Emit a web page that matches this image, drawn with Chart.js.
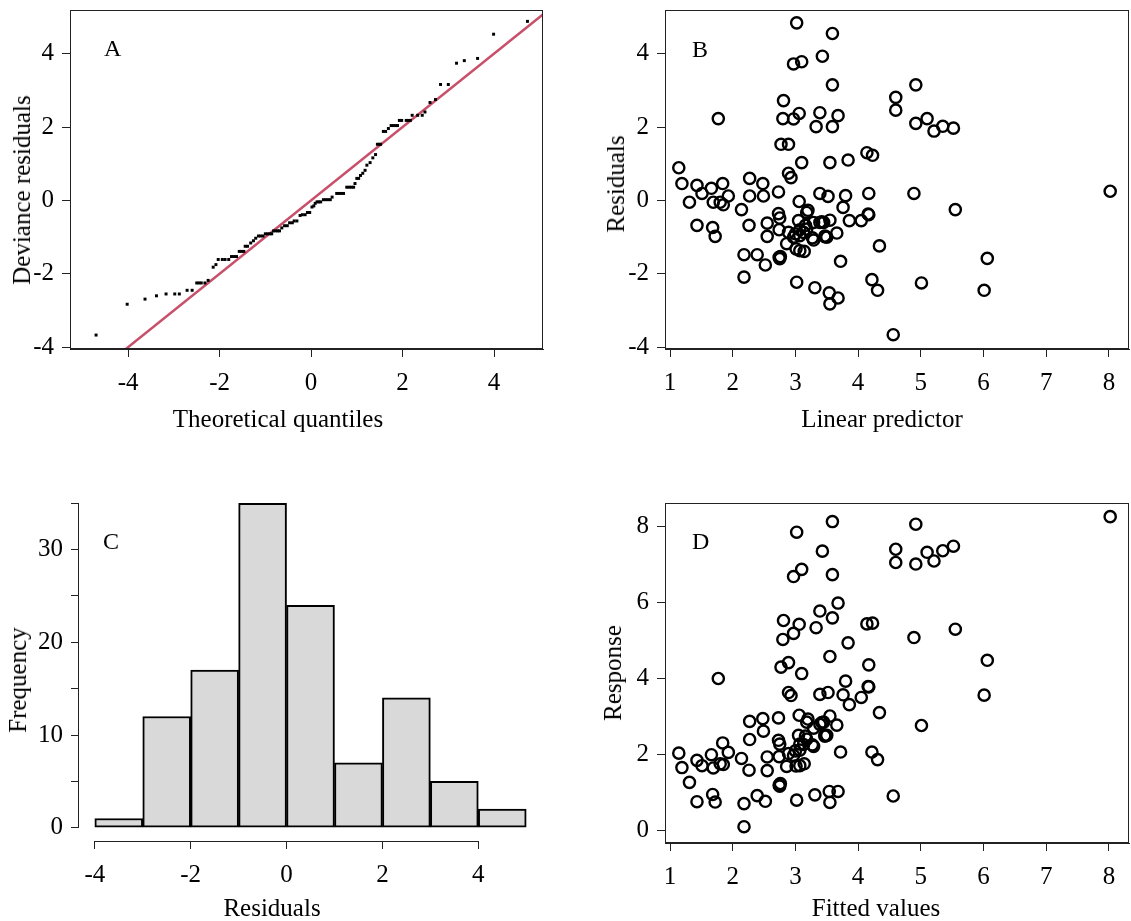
<!DOCTYPE html>
<html>
<head>
<meta charset="utf-8">
<script src="https://cdn.jsdelivr.net/npm/chart.js@4.4.0/dist/chart.umd.min.js"></script>
<style>
  body { margin: 0; width: 1131px; height: 921px; overflow: hidden; background: #fff; position: relative; }
  canvas { position: absolute; }
  .tag, .ttl { position: absolute; font-family: 'Liberation Serif', 'Times New Roman', serif; color: #000; white-space: nowrap; }
  .tag { font-size: 24px; line-height: 24px; }
  .ttl { font-size: 25px; line-height: 30px; transform: translate(-50%, -50%); }
  .ttl.v { transform: translate(-50%, -50%) rotate(-90deg); }
</style>
</head>
<body>
<canvas id="chartA" width="565" height="460" style="left:0;top:0"></canvas>
<canvas id="chartB" width="536" height="460" style="left:595px;top:0"></canvas>
<canvas id="chartC" width="565" height="470" style="left:0;top:460px"></canvas>
<canvas id="chartD" width="536" height="470" style="left:595px;top:460px"></canvas>
<div class="tag" style="left:104px;top:36px">A</div>
<div class="tag" style="left:692px;top:37px">B</div>
<div class="tag" style="left:103px;top:529px">C</div>
<div class="tag" style="left:692px;top:529px">D</div>
<div class="ttl" style="left:278px;top:419px">Theoretical quantiles</div>
<div class="ttl" style="left:882px;top:419px">Linear predictor</div>
<div class="ttl" style="left:272px;top:908px">Residuals</div>
<div class="ttl" style="left:876px;top:908px">Fitted values</div>
<div class="ttl v" style="left:22px;top:190px">Deviance residuals</div>
<div class="ttl v" style="left:616px;top:184px">Residuals</div>
<div class="ttl v" style="left:18px;top:680px">Frequency</div>
<div class="ttl v" style="left:613px;top:673px">Response</div>
<script>
// A: normal QQ plot of deviance residuals
const qqTheoretical = [-4.70, -4.02, -3.63, -3.38, -3.17, -2.98, -2.88, -2.71, -2.60, -2.50,
    -2.45, -2.40, -2.32, -2.25, -2.14, -2.08, -2.03, -1.94, -1.88, -1.80,
    -1.74, -1.69, -1.63, -1.57, -1.52, -1.47, -1.44, -1.39, -1.32, -1.26,
    -1.21, -1.15, -1.10, -1.05, -1.00, -0.95, -0.90, -0.86, -0.82, -0.77,
    -0.73, -0.69, -0.64, -0.58, -0.52, -0.47, -0.41, -0.37, -0.31, -0.24,
    -0.19, -0.13, -0.08, -0.03, 0.02, 0.06, 0.09, 0.13, 0.17, 0.21,
    0.27, 0.32, 0.37, 0.42, 0.46, 0.56, 0.61, 0.66, 0.71, 0.78,
    0.83, 0.88, 0.93, 0.96, 1.00, 1.04, 1.08, 1.13, 1.18, 1.22,
    1.29, 1.35, 1.41, 1.45, 1.49, 1.52, 1.58, 1.63, 1.69, 1.75,
    1.80, 1.85, 1.89, 1.93, 1.98, 2.08, 2.13, 2.17, 2.21, 2.33,
    2.43, 2.49, 2.60, 2.72, 2.83, 3.00, 3.18, 3.35, 3.64, 3.99, 4.73];
const qqDeviance = [-3.67, -2.83, -2.69, -2.60, -2.55, -2.55, -2.55, -2.45, -2.45, -2.25,
    -2.25, -2.25, -2.25, -2.18, -1.82, -1.75, -1.61, -1.61, -1.61, -1.61,
    -1.53, -1.53, -1.53, -1.39, -1.39, -1.39, -1.25, -1.25, -1.16, -1.10,
    -1.03, -0.97, -0.97, -0.97, -0.91, -0.91, -0.91, -0.91, -0.83, -0.83,
    -0.83, -0.83, -0.75, -0.69, -0.69, -0.61, -0.61, -0.56, -0.56, -0.41,
    -0.39, -0.39, -0.33, -0.33, -0.18, -0.15, -0.08, -0.04, -0.04, -0.04,
    0.02, 0.02, 0.02, 0.02, 0.09, 0.19, 0.19, 0.19, 0.19, 0.36,
    0.36, 0.36, 0.36, 0.46, 0.60, 0.60, 0.68, 0.74, 0.82, 0.96,
    1.03, 1.16, 1.25, 1.53, 1.53, 1.53, 1.88, 1.88, 1.96, 2.04,
    2.04, 2.04, 2.04, 2.18, 2.18, 2.18, 2.18, 2.18, 2.32, 2.32,
    2.32, 2.41, 2.67, 2.75, 3.16, 3.16, 3.74, 3.81, 3.87, 4.53, 4.88];
const qqLineX = [-5.5, 5.5];
const qqLineY = [-5.5, 5.5];

// B and D: one value per observation
const linearPredictor = [3.02, 3.59, 3.43, 2.97, 3.10, 3.59, 4.92, 4.60, 4.60, 2.81,
    1.77, 2.80, 2.97, 3.06, 3.39, 3.33, 3.59, 3.68, 4.92, 5.10,
    5.21, 5.35, 5.52, 2.77, 2.89, 3.10, 3.55, 3.84, 4.14, 4.23,
    2.89, 2.93, 1.14, 1.19, 1.43, 1.66, 1.84, 1.51, 1.93, 1.31,
    1.69, 1.80, 1.85, 2.27, 2.48, 2.27, 2.49, 2.14, 2.73, 4.89,
    8.02, 5.55, 4.17, 3.39, 3.52, 3.80, 3.76, 4.17, 4.05, 3.86,
    3.55, 3.39, 3.29, 3.66, 3.47, 3.29, 3.18, 3.06, 4.34, 3.72,
    6.06, 4.22, 4.31, 5.01, 6.01, 3.31, 3.54, 3.55, 3.68, 3.02,
    4.56, 1.43, 1.68, 1.72, 2.26, 2.55, 2.73, 2.75, 2.55, 2.74,
    2.89, 2.97, 2.86, 3.05, 3.16, 3.13, 3.01, 3.14, 3.27, 3.47,
    3.07, 3.18, 3.00, 3.07, 3.07, 2.18, 2.39, 2.52, 2.74, 2.75,
    2.18, 3.50, 3.42, 3.45, 2.76, 3.20, 4.16];
const residuals = [4.84, 4.55, 3.93, 3.72, 3.78, 3.15, 3.15, 2.81, 2.46, 2.72,
    2.23, 2.23, 2.22, 2.37, 2.39, 2.01, 2.01, 2.31, 2.10, 2.23,
    1.89, 2.02, 1.97, 1.53, 1.53, 1.03, 1.03, 1.10, 1.30, 1.23,
    0.74, 0.62, 0.89, 0.46, 0.41, 0.33, 0.46, 0.19, 0.12, -0.05,
    -0.05, -0.05, -0.12, 0.60, 0.46, 0.12, 0.12, -0.25, 0.23, 0.19,
    0.25, -0.25, 0.19, 0.19, 0.11, 0.13, -0.19, -0.39, -0.55, -0.55,
    -0.54, -0.60, -0.60, -0.89, -0.97, -1.08, -0.33, -0.03, -1.24, -1.66,
    -1.58, -2.16, -2.45, -2.25, -2.45, -2.38, -2.52, -2.82, -2.66, -2.23,
    -3.66, -0.68, -0.74, -0.98, -0.68, -0.62, -0.36, -0.48, -0.98, -0.80,
    -0.87, -1.00, -1.18, -0.55, -0.68, -0.87, -1.32, -1.39, -1.02, -0.99,
    -0.80, -0.78, -0.91, -0.96, -1.37, -1.48, -1.48, -1.76, -1.55, -1.59,
    -2.09, -1.00, -0.58, -0.60, -1.53, -0.27, -0.37];
const response = [7.86, 8.14, 7.36, 6.69, 6.88, 6.74, 8.07, 7.41, 7.06, 5.53,
    4.00, 5.03, 5.19, 5.43, 5.78, 5.34, 5.60, 5.99, 7.02, 7.33,
    7.10, 7.37, 7.49, 4.30, 4.42, 4.13, 4.58, 4.94, 5.44, 5.46,
    3.63, 3.55, 2.03, 1.65, 1.84, 1.99, 2.30, 1.70, 2.05, 1.26,
    1.64, 1.75, 1.73, 2.87, 2.94, 2.39, 2.61, 1.89, 2.96, 5.08,
    8.27, 5.30, 4.36, 3.58, 3.63, 3.93, 3.57, 3.78, 3.50, 3.31,
    3.01, 2.79, 2.69, 2.77, 2.50, 2.21, 2.85, 3.03, 3.10, 2.06,
    4.48, 2.06, 1.86, 2.76, 3.56, 0.93, 1.02, 0.73, 1.02, 0.79,
    0.90, 0.75, 0.94, 0.74, 1.58, 1.93, 2.37, 2.27, 1.57, 1.94,
    2.02, 1.97, 1.68, 2.50, 2.48, 2.26, 1.69, 1.75, 2.25, 2.48,
    2.27, 2.40, 2.09, 2.11, 1.70, 0.70, 0.91, 0.76, 1.19, 1.16,
    0.09, 2.50, 2.84, 2.85, 1.23, 2.93, 3.79];

// C: histogram of residuals
const histMidpoints = [-3.5, -2.5, -1.5, -0.5, 0.5, 1.5, 2.5, 3.5, 4.5];
const histCounts = [1, 12, 17, 35, 24, 7, 14, 5, 2];

// tick values
const ticksQQ = [-4, -2, 0, 2, 4];
const ticksPredictor = [1, 2, 3, 4, 5, 6, 7, 8];
const ticksResid = [-4, -2, 0, 2, 4];
const ticksHistX = [-4, -2, 0, 2, 4];
const ticksFreq = [0, 5, 10, 15, 20, 25, 30, 35];
const ticksResponse = [0, 2, 4, 6, 8];

Chart.defaults.font.family = "'Liberation Serif', 'Times New Roman', serif";
Chart.defaults.font.size = 25;
Chart.defaults.color = '#000';

const ink = '#222';

// closed box round the plot region
const frameBox = {
    id: 'frameBox',
    afterDatasetsDraw(chart) {
        const { ctx, chartArea: a } = chart;
        ctx.save();
        ctx.strokeStyle = ink;
        ctx.lineWidth = 1;
        ctx.strokeRect(a.left + 0.5, a.top + 0.5, a.right - a.left - 1, a.bottom - a.top - 1);
        ctx.restore();
    }
};

// axis lines that only run from first to last tick
const tickSpanAxes = {
    id: 'tickSpanAxes',
    afterDraw(chart) {
        const { ctx } = chart;
        const x = chart.scales.x, y = chart.scales.y;
        const xt = x.ticks, yt = y.ticks;
        ctx.save();
        ctx.strokeStyle = ink;
        ctx.lineWidth = 1;
        ctx.beginPath();
        ctx.moveTo(x.getPixelForValue(xt[0].value), x.top + 0.5);
        ctx.lineTo(x.getPixelForValue(xt[xt.length - 1].value), x.top + 0.5);
        ctx.moveTo(y.right - 0.5, y.getPixelForValue(yt[0].value));
        ctx.lineTo(y.right - 0.5, y.getPixelForValue(yt[yt.length - 1].value));
        ctx.stroke();
        ctx.restore();
    }
};

function rScale(pos, min, max, tickVals, boxSize, showBorder, labelFn) {
    const horizontal = pos === 'bottom';
    return {
        type: 'linear',
        position: pos,
        min: min,
        max: max,
        offset: false,
        afterBuildTicks: s => { s.ticks = tickVals.map(v => ({ value: v })); },
        afterFit: s => {
            // fixed box sizes, no extra room for edge labels
            if (horizontal) {
                s.height = boxSize;
                s.paddingLeft = 0;
                s.paddingRight = 0;
            } else {
                s.width = boxSize;
                s.paddingTop = 0;
                s.paddingBottom = 0;
            }
        },
        border: { display: showBorder, color: ink, width: 1 },
        grid: { offset: false, drawOnChartArea: false, drawTicks: true, tickLength: 8, color: ink, lineWidth: 1 },
        ticks: {
            autoSkip: false,
            maxRotation: 0,
            padding: horizontal ? 11 : 8,
            color: '#000',
            callback: labelFn || (v => String(v))
        },
        title: { display: false }
    };
}

function panelOptions(pad, xScale, yScale) {
    return {
        responsive: false,
        animation: false,
        events: [],
        layout: { autoPadding: false, padding: { left: 0, top: pad.top, right: pad.right, bottom: 0 } },
        plugins: { legend: { display: false }, tooltip: { enabled: false } },
        scales: { x: xScale, y: yScale }
    };
}

function circles(xs, ys) {
    return {
        data: xs.map((x, i) => ({ x: x, y: ys[i] })),
        pointStyle: 'circle',
        pointRadius: 5.6,
        borderWidth: 2.4,
        borderColor: '#000',
        backgroundColor: 'rgba(0,0,0,0)'
    };
}

new Chart(document.getElementById('chartA'), {
    type: 'scatter',
    data: {
        datasets: [
            {
                data: qqTheoretical.map((x, i) => ({ x: x, y: qqDeviance[i] })),
                pointStyle: 'rect',
                pointRadius: 2.1,
                borderWidth: 0,
                backgroundColor: '#000'
            },
            {
                type: 'line',
                data: qqLineX.map((x, i) => ({ x: x, y: qqLineY[i] })),
                showLine: true,
                borderColor: '#C8506A',
                borderWidth: 2.5,
                pointRadius: 0,
                fill: false
            }
        ]
    },
    options: panelOptions({ top: 10, right: 22 },
        rScale('bottom', -5.27, 5.07, ticksQQ, 111, true),
        rScale('left', -4.05, 5.19, ticksQQ, 70, true)),
    plugins: [frameBox]
});

new Chart(document.getElementById('chartB'), {
    type: 'scatter',
    data: { datasets: [circles(linearPredictor, residuals)] },
    options: panelOptions({ top: 10, right: 2 },
        rScale('bottom', 0.92, 8.32, ticksPredictor, 111, true),
        rScale('left', -4.05, 5.19, ticksResid, 70, true)),
    plugins: [frameBox]
});

new Chart(document.getElementById('chartC'), {
    type: 'bar',
    data: {
        datasets: [{
            data: histMidpoints.map((x, i) => ({ x: x, y: histCounts[i] })),
            backgroundColor: '#D9D9D9',
            borderColor: '#000',
            borderWidth: 2,
            borderSkipped: false,
            barPercentage: 1,
            categoryPercentage: 1
        }]
    },
    options: panelOptions({ top: 30, right: 22 },
        rScale('bottom', -4.33, 5.35, ticksHistX, 89, false),
        rScale('left', -1.43, 36.43, ticksFreq, 79, false,
            v => (v % 10 === 0 ? String(v) : ''))),
    plugins: [tickSpanAxes]
});

new Chart(document.getElementById('chartD'), {
    type: 'scatter',
    data: { datasets: [circles(linearPredictor, response)] },
    options: panelOptions({ top: 43, right: 2 },
        rScale('bottom', 0.92, 8.32, ticksPredictor, 87, true),
        rScale('left', -0.34, 8.63, ticksResponse, 70, true)),
    plugins: [frameBox]
});
</script>
</body>
</html>
